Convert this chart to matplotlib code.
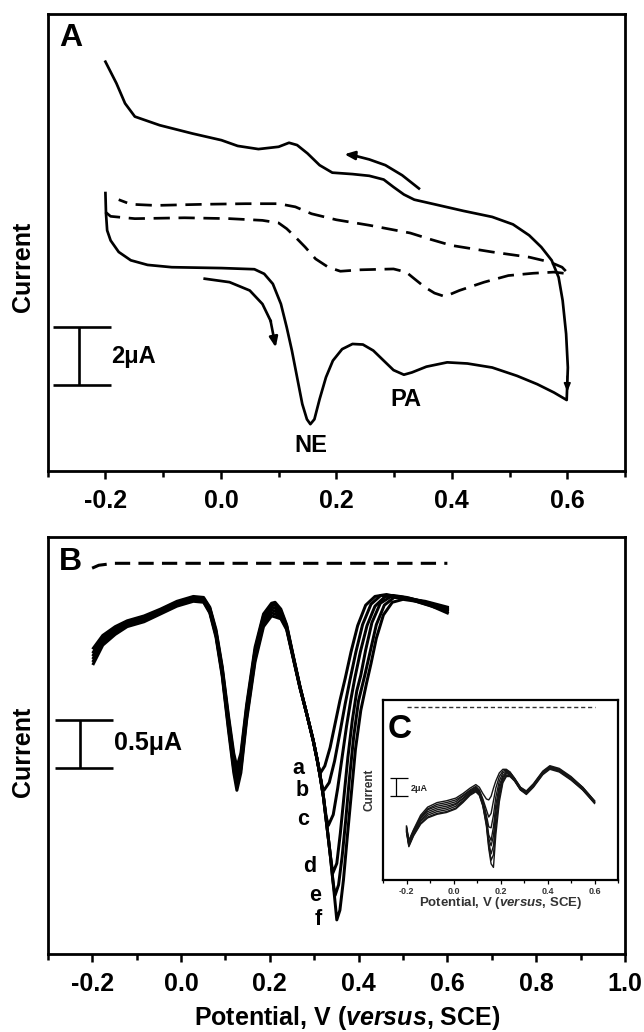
import numpy as np
import matplotlib
matplotlib.use('Agg')
import matplotlib.pyplot as plt

plt.rcParams['font.family'] = ['Liberation Sans', 'DejaVu Sans']
plt.rcParams['font.weight'] = 'bold'
plt.rcParams['mathtext.fontset'] = 'custom'
plt.rcParams['mathtext.it'] = 'Liberation Sans:italic:bold'
plt.rcParams['mathtext.rm'] = 'Liberation Sans:bold'

W, H = 644, 1032

# ---------------- Panel A: cyclic voltammograms (uA) ----------------
# solid CV: forward (lower) branch then reverse (upper) branch
cv_v = [-0.200, -0.199, -0.197, -0.191, -0.177, -0.156, -0.127, -0.085, 0.001, 0.058,
        0.075, 0.090, 0.104, 0.114, 0.123, 0.132, 0.141, 0.149, 0.155, 0.162,
        0.171, 0.182, 0.194, 0.210, 0.228, 0.246, 0.264, 0.282, 0.299, 0.317,
        0.331, 0.356, 0.392, 0.427, 0.470, 0.513, 0.548, 0.577, 0.599,
        0.601, 0.598, 0.592, 0.585, 0.573, 0.555, 0.534, 0.506, 0.470, 0.420,
        0.370, 0.335, 0.317, 0.299, 0.282, 0.257, 0.228, 0.193, 0.171, 0.150,
        0.132, 0.118, 0.100, 0.065, 0.029, 0.001, -0.049, -0.106, -0.149, -0.166,
        -0.181, -0.200]
cv_i = [9.67, 8.95, 8.37, 8.02, 7.62, 7.33, 7.17, 7.09, 7.06, 7.02,
        6.86, 6.51, 5.81, 5.00, 4.19, 3.26, 2.33, 1.80, 1.63, 1.80,
        2.50, 3.26, 3.84, 4.24, 4.42, 4.40, 4.19, 3.84, 3.51, 3.35,
        3.43, 3.63, 3.78, 3.74, 3.60, 3.31, 3.02, 2.73, 2.47,
        3.60, 4.77, 5.93, 6.74, 7.33, 7.79, 8.20, 8.58, 8.84, 9.05,
        9.28, 9.44, 9.62, 9.88, 10.14, 10.27, 10.33, 10.38, 10.64, 11.05,
        11.34, 11.42, 11.28, 11.20, 11.31, 11.51, 11.74, 12.03, 12.33, 12.79,
        13.49, 14.24]

# dashed CV (blank electrode)
blank_v = [-0.200, -0.191, -0.149, -0.063, 0.015, 0.072, 0.100, 0.114, 0.129, 0.146,
           0.164, 0.186, 0.207, 0.242, 0.299, 0.321, 0.335, 0.353, 0.370, 0.388,
           0.413, 0.456, 0.498, 0.541, 0.577, 0.602,
           0.591, 0.570, 0.534, 0.470, 0.399, 0.363, 0.328, 0.257, 0.200, 0.157,
           0.129, 0.100, 0.043, -0.028, -0.113, -0.156, -0.177]
blank_i = [9.01, 8.86, 8.78, 8.81, 8.78, 8.72, 8.63, 8.43, 8.14, 7.79,
           7.38, 7.09, 6.95, 7.00, 7.03, 6.92, 6.69, 6.40, 6.19, 6.07,
           6.28, 6.57, 6.80, 6.88, 6.92, 6.86,
           7.09, 7.27, 7.44, 7.62, 7.85, 8.06, 8.28, 8.55, 8.74, 8.95,
           9.19, 9.30, 9.30, 9.28, 9.24, 9.28, 9.44]

arrow_top_v = [0.343, 0.314, 0.285, 0.257, 0.228, 0.214]
arrow_top_i = [9.83, 10.29, 10.64, 10.84, 10.99, 11.02]
arrow_low_v = [-0.028, 0.015, 0.050, 0.072, 0.086, 0.095]
arrow_low_i = [6.69, 6.57, 6.28, 5.81, 5.23, 4.30]

# ---------------- Panel B: DPV curves a-f (uA) ----------------
dpv_left_v = [-0.197, -0.176, -0.148, -0.121, -0.083, -0.046, -0.009, 0.028, 0.051, 0.065,
              0.079, 0.093, 0.107, 0.119, 0.126, 0.135, 0.148, 0.167, 0.186, 0.204]
dpv_left = {
    'a': [3.14, 3.27, 3.36, 3.42, 3.47, 3.54, 3.62, 3.67, 3.66, 3.56, 3.33, 2.95, 2.45, 2.06, 1.92, 2.06, 2.56, 3.15, 3.49, 3.60],
    'b': [3.10, 3.25, 3.34, 3.41, 3.46, 3.53, 3.61, 3.66, 3.65, 3.55, 3.31, 2.93, 2.42, 2.02, 1.87, 2.02, 2.53, 3.12, 3.47, 3.58],
    'c': [3.07, 3.23, 3.33, 3.40, 3.45, 3.52, 3.60, 3.65, 3.64, 3.54, 3.30, 2.91, 2.39, 1.98, 1.82, 1.98, 2.50, 3.10, 3.45, 3.56],
    'd': [3.04, 3.21, 3.31, 3.38, 3.43, 3.51, 3.59, 3.64, 3.63, 3.52, 3.28, 2.89, 2.36, 1.94, 1.77, 1.94, 2.46, 3.06, 3.42, 3.53],
    'e': [3.01, 3.19, 3.30, 3.37, 3.42, 3.50, 3.58, 3.63, 3.62, 3.51, 3.27, 2.87, 2.33, 1.90, 1.73, 1.90, 2.43, 3.03, 3.39, 3.50],
    'f': [2.98, 3.17, 3.28, 3.36, 3.41, 3.49, 3.57, 3.62, 3.61, 3.50, 3.25, 2.85, 2.30, 1.86, 1.68, 1.86, 2.40, 3.00, 3.36, 3.47],
}
dpv_right_v = {
    'a': [0.212, 0.225, 0.238, 0.253, 0.268, 0.283, 0.298, 0.307, 0.313, 0.324, 0.336, 0.347, 0.358, 0.370, 0.383, 0.398, 0.416, 0.437, 0.463, 0.493, 0.550, 0.600],
    'b': [0.212, 0.225, 0.238, 0.253, 0.268, 0.283, 0.298, 0.307, 0.313, 0.318, 0.322, 0.334, 0.346, 0.358, 0.370, 0.381, 0.394, 0.409, 0.428, 0.450, 0.478, 0.508, 0.550, 0.600],
    'c': [0.212, 0.225, 0.238, 0.253, 0.268, 0.283, 0.298, 0.307, 0.313, 0.321, 0.327, 0.332, 0.343, 0.353, 0.363, 0.373, 0.383, 0.392, 0.404, 0.419, 0.437, 0.460, 0.488, 0.516, 0.560, 0.600],
    'd': [0.212, 0.225, 0.238, 0.253, 0.268, 0.283, 0.298, 0.307, 0.313, 0.321, 0.328, 0.336, 0.342, 0.351, 0.359, 0.367, 0.376, 0.386, 0.396, 0.405, 0.416, 0.430, 0.449, 0.473, 0.501, 0.550, 0.600],
    'e': [0.212, 0.225, 0.238, 0.253, 0.268, 0.283, 0.298, 0.307, 0.313, 0.321, 0.328, 0.336, 0.342, 0.347, 0.355, 0.363, 0.371, 0.379, 0.389, 0.400, 0.414, 0.426, 0.440, 0.458, 0.480, 0.508, 0.550, 0.600],
    'f': [0.212, 0.225, 0.238, 0.253, 0.268, 0.283, 0.298, 0.307, 0.313, 0.321, 0.328, 0.336, 0.343, 0.348, 0.351, 0.358, 0.366, 0.374, 0.383, 0.393, 0.405, 0.418, 0.428, 0.440, 0.456, 0.476, 0.500, 0.530, 0.560, 0.600],
}
dpv_right_i = {
    'a': [3.61, 3.54, 3.38, 3.06, 2.75, 2.47, 2.19, 1.99, 1.85, 1.93, 2.12, 2.36, 2.60, 2.83, 3.10, 3.37, 3.58, 3.67, 3.69, 3.66, 3.62, 3.56],
    'b': [3.58, 3.52, 3.37, 3.05, 2.74, 2.47, 2.19, 1.99, 1.84, 1.72, 1.68, 1.76, 1.98, 2.27, 2.57, 2.82, 3.10, 3.38, 3.59, 3.68, 3.68, 3.66, 3.61, 3.55],
    'c': [3.55, 3.50, 3.36, 3.05, 2.74, 2.47, 2.19, 1.99, 1.84, 1.61, 1.41, 1.32, 1.43, 1.70, 2.02, 2.34, 2.62, 2.84, 3.10, 3.37, 3.57, 3.67, 3.67, 3.65, 3.60, 3.54],
    'd': [3.52, 3.48, 3.35, 3.04, 2.74, 2.47, 2.19, 1.99, 1.84, 1.61, 1.34, 1.03, 0.83, 0.93, 1.24, 1.61, 2.02, 2.40, 2.70, 2.86, 3.12, 3.40, 3.60, 3.67, 3.66, 3.60, 3.53],
    'e': [3.49, 3.46, 3.34, 3.04, 2.74, 2.47, 2.19, 1.99, 1.84, 1.61, 1.34, 1.03, 0.76, 0.60, 0.71, 1.00, 1.37, 1.78, 2.23, 2.60, 2.86, 3.10, 3.38, 3.58, 3.66, 3.65, 3.59, 3.52],
    'f': [3.46, 3.44, 3.33, 3.03, 2.73, 2.47, 2.19, 1.99, 1.84, 1.61, 1.34, 1.03, 0.72, 0.49, 0.35, 0.45, 0.76, 1.17, 1.61, 2.10, 2.50, 2.78, 2.98, 3.24, 3.48, 3.61, 3.64, 3.62, 3.58, 3.50],
}
curve_labels = ['a', 'b', 'c', 'd', 'e', 'f']
label_v = [0.264, 0.272, 0.276, 0.289, 0.302, 0.309]
label_i = [1.90, 1.68, 1.38, 0.90, 0.60, 0.35]

blank_dpv_v = [-0.200, -0.185, -0.150, 0.000, 0.300, 0.600]
blank_dpv_i = [3.96, 3.99, 4.01, 4.01, 4.01, 4.01]

# ---------------- Inset C: DPV series (uA) ----------------
inset_v = [-0.200, -0.190, -0.170, -0.140, -0.110, -0.070, -0.030, 0.010, 0.040, 0.070,
           0.095, 0.110, 0.125, 0.140, 0.150, 0.160, 0.170, 0.180, 0.195, 0.210,
           0.225, 0.240, 0.260, 0.285, 0.310, 0.340, 0.380, 0.410, 0.450, 0.500,
           0.550, 0.600]
inset_i = [
    [6.0, 4.4, 5.6, 7.2, 8.1, 8.6, 8.8, 9.1, 9.6, 10.2, 10.6, 10.3, 9.6, 9.0, 8.9, 9.3, 10.2, 11.0, 11.9, 12.3, 12.3, 12.0, 11.3, 10.3, 9.9, 10.7, 12.1, 12.7, 12.4, 11.5, 10.3, 8.8],
    [5.9, 4.3, 5.5, 7.0, 7.9, 8.4, 8.6, 8.9, 9.4, 10.0, 10.4, 10.0, 9.0, 7.8, 7.0, 7.4, 8.8, 10.2, 11.5, 12.1, 12.2, 12.0, 11.3, 10.3, 9.8, 10.6, 12.0, 12.6, 12.3, 11.4, 10.3, 8.8],
    [5.8, 4.2, 5.4, 6.9, 7.8, 8.2, 8.4, 8.7, 9.3, 9.9, 10.3, 9.9, 8.8, 7.2, 5.9, 5.8, 7.2, 9.2, 11.0, 11.9, 12.1, 11.9, 11.2, 10.2, 9.8, 10.6, 12.0, 12.6, 12.3, 11.4, 10.2, 8.7],
    [5.7, 4.1, 5.3, 6.8, 7.6, 8.0, 8.2, 8.5, 9.1, 9.8, 10.2, 9.8, 8.6, 6.8, 5.0, 4.4, 5.9, 8.3, 10.5, 11.6, 12.0, 11.8, 11.2, 10.2, 9.7, 10.5, 11.9, 12.5, 12.2, 11.3, 10.2, 8.7],
    [5.6, 4.0, 5.2, 6.6, 7.4, 7.8, 8.0, 8.4, 9.0, 9.7, 10.1, 9.7, 8.5, 6.6, 4.6, 3.8, 4.9, 7.6, 10.1, 11.4, 11.9, 11.8, 11.1, 10.1, 9.7, 10.5, 11.9, 12.5, 12.2, 11.3, 10.1, 8.6],
    [5.5, 3.9, 5.1, 6.5, 7.2, 7.6, 7.8, 8.2, 8.8, 9.6, 10.0, 9.6, 8.4, 6.4, 4.2, 2.9, 3.8, 6.8, 9.7, 11.2, 11.8, 11.7, 11.1, 10.1, 9.6, 10.4, 11.8, 12.4, 12.1, 11.2, 10.1, 8.6],
    [5.4, 3.8, 5.0, 6.3, 7.0, 7.4, 7.6, 8.0, 8.7, 9.5, 9.9, 9.5, 8.3, 6.2, 3.8, 2.2, 2.8, 5.9, 9.2, 11.0, 11.6, 11.6, 11.0, 10.0, 9.6, 10.4, 11.8, 12.4, 12.1, 11.2, 10.0, 8.6],
    [5.3, 3.7, 4.9, 6.2, 6.9, 7.3, 7.5, 7.9, 8.6, 9.4, 9.8, 9.4, 8.2, 6.0, 3.5, 1.8, 1.4, 5.0, 8.7, 10.8, 11.5, 11.5, 11.0, 10.0, 9.5, 10.3, 11.7, 12.3, 12.0, 11.1, 10.0, 8.5],
]
inset_blank_v = [-0.2, 0.6]
inset_blank_i = [19.2, 19.2]

xlabel = r'Potential, V ($\mathit{versus}$, SCE)'


def px_axes(fig, left, top, right, bottom):
    return fig.add_axes([left / W, 1 - bottom / H, (right - left) / W, (bottom - top) / H])


def style_axes(ax, lw, fs, major_len, minor_len, tw, pad, color='black'):
    for s in ax.spines.values():
        s.set_linewidth(lw)
    ax.set_yticks([])
    ax.xaxis.set_major_locator(plt.MultipleLocator(0.2))
    ax.xaxis.set_minor_locator(plt.MultipleLocator(0.1))
    ax.tick_params(axis='x', which='major', direction='out', length=major_len, width=tw,
                   labelsize=fs, pad=pad, labelcolor=color)
    ax.tick_params(axis='x', which='minor', direction='out', length=minor_len, width=tw)
    ax.xaxis.set_major_formatter(plt.FuncFormatter(lambda v, p: f'{v:.1f}'))


def scale_bar(ax, x0, x1, xm, y0, y1, lw):
    ax.plot([x0, x1], [y1, y1], color='black', lw=lw, solid_capstyle='butt')
    ax.plot([x0, x1], [y0, y0], color='black', lw=lw, solid_capstyle='butt')
    ax.plot([xm, xm], [y0, y1], color='black', lw=lw, solid_capstyle='butt')


fig = plt.figure(figsize=(W / 100, H / 100), dpi=100)

# ---- Panel A ----
axA = px_axes(fig, 47.7, 14, 625, 471)
axA.set_xlim(-0.3, 0.7)
axA.set_ylim(0, 15.9)
style_axes(axA, 2.0, 18, 6, 4, 1.8, 7)

axA.plot(cv_v, cv_i, color='black', lw=1.95, solid_joinstyle='round')
axA.plot(blank_v, blank_i, color='black', lw=1.95, dashes=(6, 3.2))

for vs, is_ in [(arrow_top_v, arrow_top_i), (arrow_low_v, arrow_low_i)]:
    axA.plot(vs[:-1], is_[:-1], color='black', lw=1.95, solid_joinstyle='round')
    axA.annotate('', xy=(vs[-1], is_[-1]), xytext=(vs[-2], is_[-2]),
                 arrowprops=dict(arrowstyle='-|>,head_length=0.6,head_width=0.25',
                                 color='black', lw=1.9, shrinkA=0, shrinkB=0))
axA.annotate('', xy=(0.6, 2.75), xytext=(0.6, 3.3),
             arrowprops=dict(arrowstyle='-|>,head_length=0.5,head_width=0.2',
                             color='black', lw=1.2, shrinkA=0, shrinkB=0))

scale_bar(axA, -0.291, -0.191, -0.245, 3.0, 5.0, 1.9)
axA.text(-0.19, 3.98, '2μA', fontsize=17, ha='left', va='center')
axA.text(0.155, 0.87, 'NE', fontsize=17, ha='center', va='center')
axA.text(0.321, 2.5, 'PA', fontsize=17, ha='center', va='center')
axA.text(71 / W, 1 - 38.5 / H, 'A', transform=fig.transFigure, fontsize=23,
         ha='center', va='center')
fig.text(23.5 / W, 1 - 267 / H, 'Current', rotation=90, fontsize=18,
         ha='center', va='center')

# ---- Panel B ----
axB = px_axes(fig, 47.7, 537, 625, 954)
axB.set_xlim(-0.3, 1.0)
axB.set_ylim(0, 4.28)
style_axes(axB, 2.0, 18, 6, 4, 1.8, 7)

for k in curve_labels:
    axB.plot(dpv_left_v + dpv_right_v[k], dpv_left[k] + dpv_right_i[k],
             color='black', lw=2.15, solid_joinstyle='round')
axB.plot(blank_dpv_v, blank_dpv_i, color='black', lw=2.2, dashes=(5, 2.7))
for lab, v, i in zip(curve_labels, label_v, label_i):
    axB.text(v, i, lab, fontsize=15.5, ha='center', va='center')

scale_bar(axB, -0.283, -0.153, -0.227, 1.906, 2.406, 1.9)
axB.text(-0.150, 2.17, '0.5μA', fontsize=18, ha='left', va='center')
axB.text(70.5 / W, 1 - 562.5 / H, 'B', transform=fig.transFigure, fontsize=23,
         ha='center', va='center')
fig.text(23.5 / W, 1 - 752 / H, 'Current', rotation=90, fontsize=18,
         ha='center', va='center')
fig.text(347 / W, 1 - 1018 / H, xlabel, fontsize=18, ha='center', va='center')

# ---- Inset C ----
axC = px_axes(fig, 383, 700, 618, 880)
axC.set_xlim(-0.3, 0.7)
axC.set_ylim(0, 20)
style_axes(axC, 1.6, 6.5, 3, 2, 0.9, 2, color='#333333')
for ys in inset_i:
    axC.plot(inset_v, ys, color='#151515', lw=1.0, solid_joinstyle='round')
axC.plot(inset_blank_v, inset_blank_i, color='#333333', lw=1.0, dashes=(3, 2))
scale_bar(axC, -0.270, -0.194, -0.245, 9.33, 11.33, 0.9)
axC.text(-0.182, 10.2, '2μA', fontsize=6.5, ha='left', va='center', color='#222222')
fig.text(400 / W, 1 - 730 / H, 'C', fontsize=24, ha='center', va='center')
fig.text(369 / W, 1 - 790 / H, 'Current', rotation=90, fontsize=8.5,
         ha='center', va='center', color='#333333')
fig.text(500.5 / W, 1 - 903 / H, xlabel, fontsize=9.5, ha='center', va='center',
         color='#333333')

fig.savefig('out.png', dpi=100)
